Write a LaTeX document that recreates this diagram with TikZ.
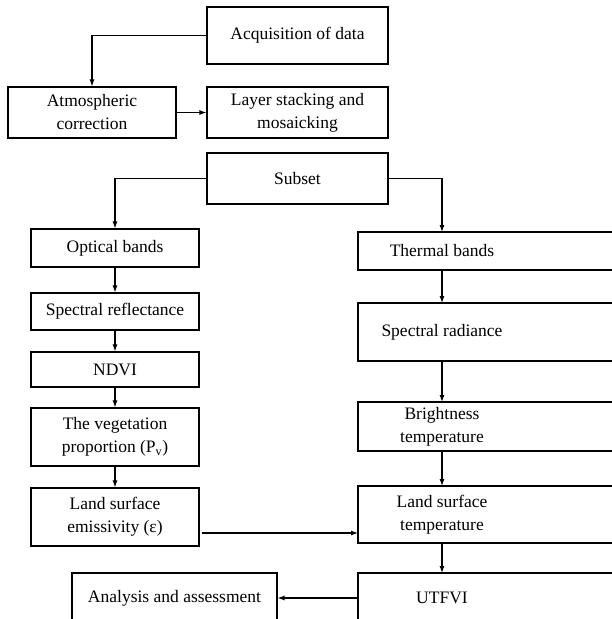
\documentclass[tikz,border=0pt]{standalone}
\usepackage{fontspec}
\setmainfont{Liberation Serif}
\usetikzlibrary{arrows.meta,positioning}

\begin{document}
\begin{tikzpicture}[x=1pt,y=-1pt,line width=1.1pt,
  box/.style={draw,align=center,inner sep=0pt,minimum width=168pt,
    font=\fontsize{17.5}{23}\selectfont},
  rbox/.style={box,draw=none,outer sep=0pt},
  >={Latex[length=7pt,width=5pt]}]
\useasboundingbox (0,0) rectangle (612,619);
\clip (0,0) rectangle (612,619);
% Pretraitement des images.
\node[box,minimum width=181pt,minimum height=57pt] (acq) at (297.5,35.5) {Acquisition of data};
\node[box,minimum height=51pt] (atm) at (92,112.5) {Atmospheric\\correction};
\node[box,minimum width=181pt,minimum height=51pt] (layer) at (297.5,112.5) {Layer stacking and\\mosaicking};
\node[box,minimum width=181pt,minimum height=51pt] (subset) at (297.5,178.5) {Subset};
% Branche optique.
\node[box,minimum height=38pt] (optical) at (115,248) {Optical bands};
\node[box,minimum height=37pt] (refl) at (115,311.5) {Spectral reflectance};
\node[box,minimum height=35pt] (ndvi) at (115,369.5) {NDVI};
\node[box,minimum height=58pt] (veg) at (115,437) {The vegetation\\proportion (P\textsubscript{v})};
\node[box,minimum height=58pt] (lse) at (115,517) {Land surface\\emissivity (ε)};
% Branche thermique, les boites sortent du cadre a droite.
\node[rbox,minimum height=38pt] (thermal) at (442,251) {Thermal bands};
\node[rbox,minimum height=58pt] (radiance) at (442,332) {Spectral radiance};
\node[rbox,minimum height=49pt] (bright) at (442,426.5) {Brightness\\temperature};
\node[rbox,minimum height=57pt] (lst) at (442,514.5) {Land surface\\temperature};
\node[rbox,minimum height=50pt] (utfvi) at (442,598) {UTFVI};
\foreach \n in {thermal,radiance,bright,lst,utfvi}
  \draw (\n.north west) rectangle ([xshift=120pt]\n.south east);
\node[box,minimum width=205pt,minimum height=50pt] (analysis) at (174.5,598) {Analysis and assessment};
% Fleches.
\draw[->] (acq.west) -| (atm.north);
\draw[->] (atm) -- (layer);
\draw[->] (subset.west) -| (optical.north);
\draw[->] (subset.east) -| (thermal.north);
\foreach \a/\b in {optical/refl,refl/ndvi,ndvi/veg,veg/lse,thermal/radiance,radiance/bright,bright/lst,lst/utfvi}
  \draw[->] (\a) -- (\b);
\coordinate (eps) at ([xshift=2pt,yshift=-16pt]lse.east);
\draw[->] (eps) -- (eps -| lst.west);
\draw[->] (utfvi.west) -- (analysis.east);
\end{tikzpicture}
\end{document}
